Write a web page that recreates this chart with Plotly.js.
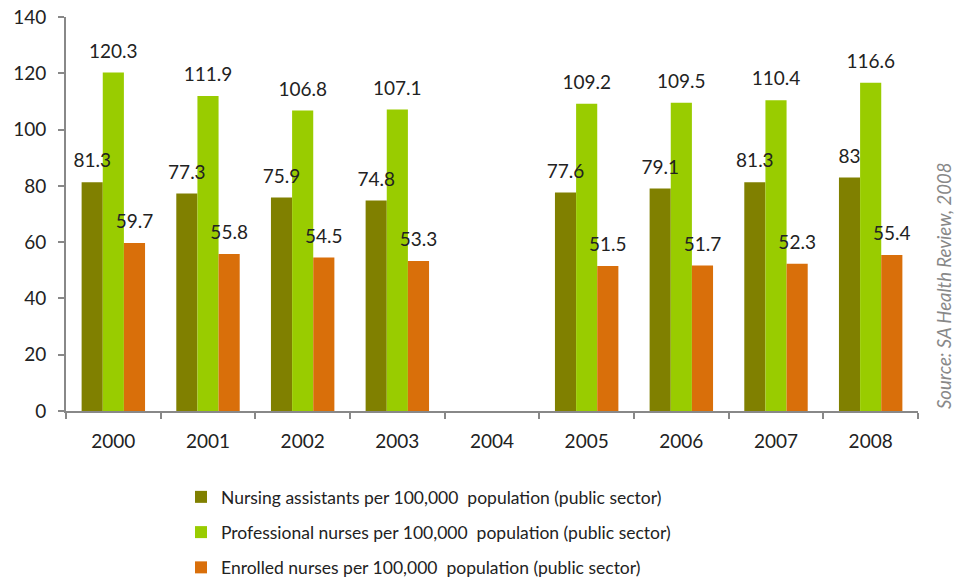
<!DOCTYPE html>
<html><head><meta charset="utf-8">
<script src="https://cdn.plot.ly/plotly-3.0.1.min.js"></script>
<style>html,body{margin:0;padding:0;background:#fff}#chart{width:965px;height:582px}</style>
</head><body><div id="chart"></div>
<script>
const years = ['2000','2001','2002','2003','2004','2005','2006','2007','2008'];
const nursingAssistants = [81.3, 77.3, 75.9, 74.8, null, 77.6, 79.1, 81.3, 83];
const professionalNurses = [120.3, 111.9, 106.8, 107.1, null, 109.2, 109.5, 110.4, 116.6];
const enrolledNurses = [59.7, 55.8, 54.5, 53.3, null, 51.5, 51.7, 52.3, 55.4];
const seriesNames = [
  'Nursing assistants per 100,000  population (public sector)',
  'Professional nurses per 100,000  population (public sector)',
  'Enrolled nurses per 100,000  population (public sector)'
];
const colors = ['#808000', '#99cc00', '#d96f0a'];
const FONT = 'Lato, "Open Sans", sans-serif';
const allSeries = [nursingAssistants, professionalNurses, enrolledNurses];

// bar traces (no text)
const data = allSeries.map((vals, i) => ({
  type: 'bar', x: years, y: vals, name: seriesNames[i],
  marker: {color: colors[i]},
  legendgroup: 'g' + i, hoverinfo: 'skip'
}));
// transparent overlay traces carrying the value labels, drawn on top of all bars
allSeries.forEach((vals, i) => data.push({
  type: 'bar', x: years, y: vals, xaxis: 'x2', yaxis: 'y2',
  marker: {color: 'rgba(0,0,0,0)'},
  text: vals.map(v => v == null ? '' : String(v)),
  textposition: 'outside', cliponaxis: false, constraintext: 'none',
  textfont: {family: FONT, size: 19, color: '#222'},
  showlegend: false, hoverinfo: 'skip'
}));

const layout = {
  width: 965, height: 582,
  margin: {l: 66, r: 47, t: 17, b: 171},
  paper_bgcolor: '#fff', plot_bgcolor: '#fff',
  font: {family: FONT, size: 16, color: '#222'},
  barmode: 'group', bargap: 0.33, bargroupgap: 0,
  uniformtext: {mode: false},
  xaxis: {
    type: 'category', showgrid: false, zeroline: false,
    showline: true, linecolor: '#888', linewidth: 2,
    ticks: 'outside', tickson: 'boundaries', ticklen: 6, tickcolor: '#888', tickwidth: 2,
    ticklabelstandoff: 12, automargin: false,
    tickfont: {family: FONT, size: 19, color: '#222'}
  },
  xaxis2: {
    type: 'category', overlaying: 'x', matches: 'x', visible: false
  },
  yaxis: {
    range: [0, 140], dtick: 20, showgrid: false, zeroline: false,
    showline: true, linecolor: '#888', linewidth: 2,
    ticks: 'outside', ticklen: 6, tickcolor: '#888', tickwidth: 2,
    ticklabelstandoff: 8, automargin: false,
    tickfont: {family: FONT, size: 19, color: '#222'}
  },
  yaxis2: {
    overlaying: 'y', range: [-2.8, 137.2], visible: false
  },
  showlegend: true,
  legend: {
    orientation: 'v', xref: 'paper', x: 0.135, xanchor: 'left',
    yref: 'container', y: 0.177, yanchor: 'top',
    font: {family: FONT, size: 17.5, color: '#222'},
    traceorder: 'grouped', tracegroupgap: 9.5, itemwidth: 30
  },
  annotations: [{
    text: '<i>Source: SA Health Review, 2008</i>', textangle: -90,
    xref: 'paper', yref: 'paper', x: 1.03, y: 0.0, xanchor: 'center', yanchor: 'bottom',
    showarrow: false, font: {family: FONT, size: 18.5, color: '#888'}
  }]
};
Plotly.newPlot('chart', data, layout, {displayModeBar: false, staticPlot: true});
</script></body></html>
